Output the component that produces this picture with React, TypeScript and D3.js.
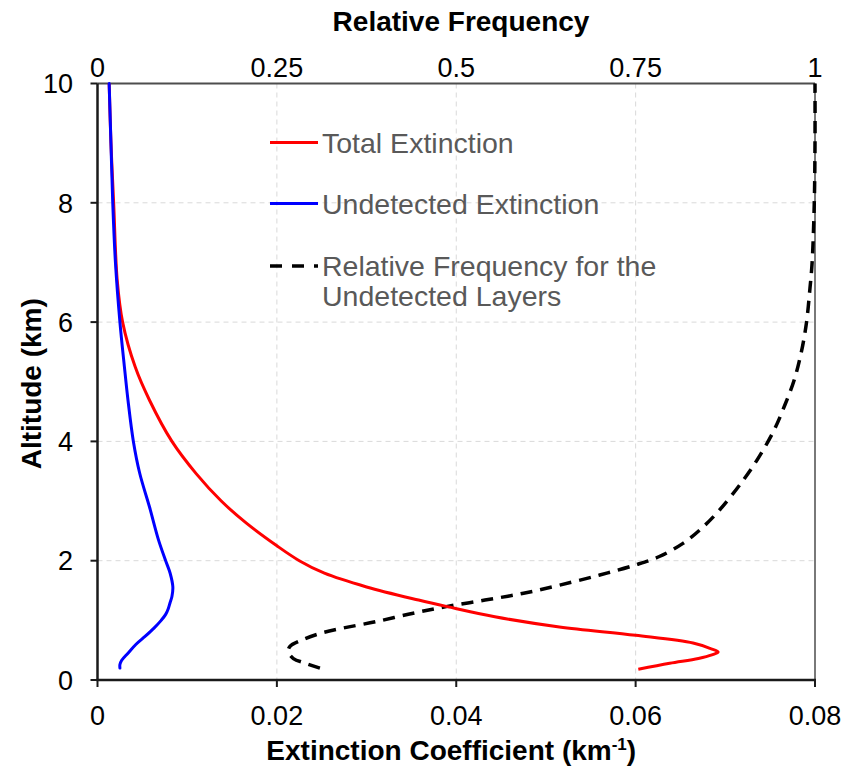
import React, { useEffect, useRef } from 'react';
import * as d3 from 'd3';

// Extinction ticks (bottom) and relative frequency ticks (top)
const extTicks = [0, 0.02, 0.04, 0.06, 0.08];
const freqTicks = [0, 0.25, 0.5, 0.75, 1];
const altTicks = [0, 2, 4, 6, 8, 10];

// Total extinction profile: altitude (km) / extinction (km-1)
const totalAlt = [0.18, 0.28, 0.36, 0.42, 0.47, 0.53, 0.62, 0.75, 0.89, 1.06, 1.23, 1.34, 1.56, 1.79, 2.0, 2.25, 2.63, 3.0, 3.46, 4.0, 4.69, 5.25, 6.0, 6.7, 8.0, 9.0, 10.0];
const totalExt = [0.0603, 0.0638, 0.0670, 0.0685, 0.0692, 0.0683, 0.0664, 0.0600, 0.0515, 0.0443, 0.0390, 0.0358, 0.0300, 0.0253, 0.0225, 0.0200, 0.0166, 0.0138, 0.0110, 0.0083, 0.0058, 0.0042, 0.0028, 0.0022, 0.0018, 0.0015, 0.0013];

// Undetected extinction profile
const undetAlt = [0.2, 0.26, 0.33, 0.45, 0.6, 0.73, 0.87, 1.0, 1.1, 1.2, 1.3, 1.4, 1.56, 1.79, 2.0, 2.35, 2.9, 3.47, 4.0, 4.69, 5.25, 6.0, 7.0, 8.0, 9.0, 10.0];
const undetExt = [0.0025, 0.0025, 0.0027, 0.0034, 0.0043, 0.0053, 0.0063, 0.0071, 0.0076, 0.0079, 0.0081, 0.0083, 0.0084, 0.0081, 0.0076, 0.0068, 0.0058, 0.0047, 0.0040, 0.0034, 0.0030, 0.0025, 0.0020, 0.0017, 0.0015, 0.0013];

// Relative frequency of undetected layers (top axis)
const freqAlt = [0.2, 0.28, 0.36, 0.47, 0.56, 0.67, 0.78, 0.87, 0.98, 1.12, 1.23, 1.34, 1.45, 1.59, 1.76, 1.93, 2.07, 2.29, 2.51, 2.85, 3.35, 3.74, 4.19, 4.61, 5.03, 5.5, 5.98, 6.57, 7.0, 8.0, 9.0, 10.0];
const freqVal = [0.31, 0.29, 0.273, 0.266, 0.268, 0.285, 0.31, 0.342, 0.389, 0.44, 0.486, 0.54, 0.592, 0.644, 0.7, 0.75, 0.783, 0.816, 0.839, 0.867, 0.9, 0.922, 0.943, 0.958, 0.971, 0.981, 0.988, 0.993, 0.996, 0.999, 1.0, 1.0];

const FONT = '"Liberation Sans", Arial, sans-serif';

const App: React.FC = () => {
  const svgRef = useRef<SVGSVGElement>(null);
  const width = 848;
  const height = 778;
  const margin = { left: 97.5, right: 815, top: 83.5, bottom: 680 };

  useEffect(() => {
    if (!svgRef.current) return;
    const svg = d3.select(svgRef.current);
    svg.selectAll('*').remove();

    const x = d3.scaleLinear().domain([0, 0.08]).range([margin.left, margin.right]);
    const xTop = d3.scaleLinear().domain([0, 1]).range([margin.left, margin.right]);
    const y = d3.scaleLinear().domain([0, 10]).range([margin.bottom, margin.top]);

    svg.append('rect').attr('width', width).attr('height', height).attr('fill', '#fff');

    // grid
    const grid = svg.append('g').attr('stroke', '#d9d9d9').attr('stroke-width', 1).attr('stroke-dasharray', '5,4');
    grid.selectAll('.vg').data(extTicks.slice(1, -1)).enter().append('line')
      .attr('x1', d => x(d)).attr('x2', d => x(d))
      .attr('y1', margin.top).attr('y2', margin.bottom);
    grid.selectAll('.hg').data(altTicks.slice(1, -1)).enter().append('line')
      .attr('x1', margin.left).attr('x2', margin.right)
      .attr('y1', d => y(d)).attr('y2', d => y(d));

    // frame: top and right
    svg.append('line').attr('x1', margin.left).attr('x2', margin.right)
      .attr('y1', margin.top).attr('y2', margin.top)
      .attr('stroke', '#4d4d4d').attr('stroke-width', 2);
    svg.append('line').attr('x1', margin.right).attr('x2', margin.right)
      .attr('y1', margin.top).attr('y2', margin.bottom)
      .attr('stroke', '#4d4d4d').attr('stroke-width', 1.5);

    // series, altitude is the independent variable
    const lineOf = (alts: number[], vals: number[], sx: d3.ScaleLinear<number, number>) =>
      d3.line<number>()
        .x((_, i) => sx(vals[i]))
        .y(d => y(d))
        .curve(d3.curveCatmullRom.alpha(0.5))(alts);

    svg.append('path').attr('d', lineOf(freqAlt, freqVal, xTop))
      .attr('fill', 'none').attr('stroke', '#000').attr('stroke-width', 3.5)
      .attr('stroke-dasharray', '12,8');
    svg.append('path').attr('d', lineOf(totalAlt, totalExt, x))
      .attr('fill', 'none').attr('stroke', '#ff0000').attr('stroke-width', 3)
      .attr('stroke-linejoin', 'round');
    svg.append('path').attr('d', lineOf(undetAlt, undetExt, x))
      .attr('fill', 'none').attr('stroke', '#0000ff').attr('stroke-width', 3)
      .attr('stroke-linecap', 'round');

    // left and bottom axes
    svg.append('line').attr('x1', margin.left).attr('x2', margin.left)
      .attr('y1', margin.top).attr('y2', margin.bottom + 1)
      .attr('stroke', '#1a1a1a').attr('stroke-width', 2.5);
    svg.append('line').attr('x1', margin.left - 1).attr('x2', margin.right + 1)
      .attr('y1', margin.bottom).attr('y2', margin.bottom)
      .attr('stroke', '#1a1a1a').attr('stroke-width', 2.5);

    svg.selectAll('.bt').data(extTicks).enter().append('line')
      .attr('x1', d => x(d)).attr('x2', d => x(d))
      .attr('y1', margin.bottom).attr('y2', margin.bottom + 7)
      .attr('stroke', '#1a1a1a').attr('stroke-width', 2);
    svg.selectAll('.lt').data(altTicks).enter().append('line')
      .attr('x1', margin.left - 7).attr('x2', margin.left)
      .attr('y1', d => y(d)).attr('y2', d => y(d))
      .attr('stroke', '#1a1a1a').attr('stroke-width', 2);

    // tick labels
    svg.selectAll('.bl').data(extTicks).enter().append('text')
      .attr('x', d => x(d)).attr('y', 725)
      .attr('text-anchor', 'middle')
      .style('font-family', FONT).style('font-size', '27px').style('fill', '#000')
      .text(d => d === 0 ? '0' : String(d));
    svg.selectAll('.tl').data(freqTicks).enter().append('text')
      .attr('x', d => xTop(d)).attr('y', 77)
      .attr('text-anchor', 'middle')
      .style('font-family', FONT).style('font-size', '27px').style('fill', '#000')
      .text(d => String(d));
    svg.selectAll('.ll').data(altTicks).enter().append('text')
      .attr('x', 73).attr('y', d => y(d)).attr('dy', '0.36em')
      .attr('text-anchor', 'end')
      .style('font-family', FONT).style('font-size', '27px').style('fill', '#000')
      .text(d => String(d));

    // axis titles
    const bt = svg.append('text').attr('x', (margin.left + margin.right) / 2 - 5).attr('y', 760)
      .attr('text-anchor', 'middle')
      .style('font-family', FONT).style('font-size', '28px').style('font-weight', 'bold');
    bt.append('tspan').text('Extinction Coefficient (km');
    bt.append('tspan').attr('dy', -10).style('font-size', '17px').text('-1');
    bt.append('tspan').attr('dy', 10).text(')');

    svg.append('text').attr('x', 461).attr('y', 31)
      .attr('text-anchor', 'middle')
      .style('font-family', FONT).style('font-size', '28px').style('font-weight', 'bold')
      .text('Relative Frequency');

    svg.append('text')
      .attr('transform', `translate(41,${(margin.top + margin.bottom) / 2 + 2}) rotate(-90)`)
      .attr('text-anchor', 'middle')
      .style('font-family', FONT).style('font-size', '28px').style('font-weight', 'bold')
      .text('Altitude (km)');

    // legend
    const legend = [
      { label: ['Total Extinction'], color: '#ff0000', dash: null, y: 142.5 },
      { label: ['Undetected Extinction'], color: '#0000ff', dash: null, y: 203.5 },
      { label: ['Relative Frequency for the', 'Undetected Layers'], color: '#000', dash: '12,10', y: 266 },
    ];
    const lg = svg.append('g');
    legend.forEach(item => {
      lg.append('line').attr('x1', 270).attr('x2', 318)
        .attr('y1', item.y).attr('y2', item.y)
        .attr('stroke', item.color).attr('stroke-width', item.dash ? 3.5 : 3)
        .attr('stroke-dasharray', item.dash);
      item.label.forEach((t, i) => {
        lg.append('text').attr('x', 322).attr('y', item.y + 10 + i * 30)
          .style('font-family', FONT).style('font-size', '28.5px').style('fill', '#595959')
          .text(t);
      });
    });
  }, []);

  return (
    <svg ref={svgRef} width={width} height={height}
      style={{ position: 'absolute', left: 0, top: 0 }} />
  );
};

export default App;
